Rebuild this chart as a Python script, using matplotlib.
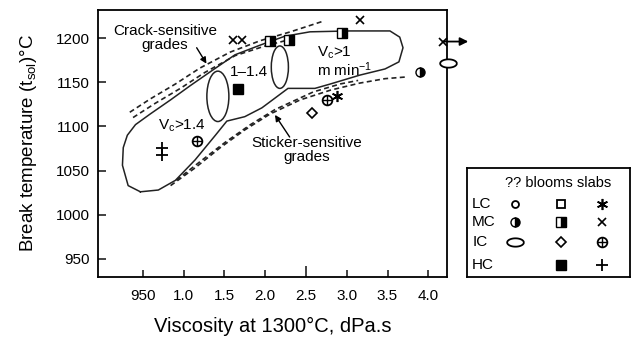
import numpy as np
import matplotlib
matplotlib.use('Agg')
import matplotlib.pyplot as plt
from matplotlib.patches import Ellipse
from matplotlib.path import Path

plt.rcParams['font.family'] = ['Liberation Sans', 'DejaVu Sans']
plt.rcParams['mathtext.fontset'] = 'custom'
plt.rcParams['mathtext.rm'] = 'Liberation Sans'
plt.rcParams['mathtext.it'] = 'Liberation Sans:italic'

# axes
x_ticks = [0.5, 1.0, 1.5, 2.0, 2.5, 3.0, 3.5, 4.0]
x_tick_labels = ['950', '1.0', '1.5', '2.0', '2.5', '3.0', '3.5', '4.0']
y_ticks = [950, 1000, 1050, 1100, 1150, 1200]

# measured points (viscosity, break temperature)
mc_half_circle_x = [3.90]
mc_half_circle_y = [1162]
mc_half_square_x = [2.06, 2.29, 2.94]
mc_half_square_y = [1197, 1198, 1206]
mc_cross_x = [1.61, 1.72, 3.16, 4.18]
mc_cross_y = [1198, 1198, 1220, 1196]
ic_ellipse_x = [4.24]
ic_ellipse_y = [1172]
ic_drop_x = [2.57]
ic_drop_y = [1115]
ic_slab_x = [1.17, 2.76]
ic_slab_y = [1084, 1130]
lc_star_x = [2.88]
lc_star_y = [1134]
hc_square_x = [1.67]
hc_square_y = [1142]
hc_plus_x = [0.73, 0.73]
hc_plus_y = [1075, 1068]

# outline of the casting-speed regions
loop_x = [0.47, 0.32, 0.25, 0.26, 0.31, 0.41, 0.59, 0.84, 1.08, 1.33, 1.63, 1.94,
          2.24, 2.55, 3.04, 3.53, 3.65, 3.69, 3.64, 3.47, 3.16, 2.80, 2.61, 2.28,
          2.12, 1.96, 1.75, 1.53, 1.39, 1.14, 0.90, 0.69]
loop_y = [1026, 1033, 1056, 1076, 1090, 1102, 1114, 1130, 1146, 1162, 1181, 1192,
          1202, 1207, 1208, 1208, 1201, 1189, 1173, 1165, 1158, 1148, 1143, 1143,
          1132, 1121, 1111, 1106, 1090, 1062, 1039, 1028]
oval_b = (1.42, 1134, 0.27, 57)   # centre x, centre y, width, height
oval_c = (2.18, 1167, 0.21, 48)

# crack-sensitive boundary (two dashed strokes)
crack1_x = [0.34, 0.59, 0.90, 1.20, 1.57, 1.94, 2.31, 2.71]
crack1_y = [1116, 1131, 1148, 1166, 1184, 1197, 1207, 1219]
crack2_x = [0.38, 0.65, 0.96, 1.26, 1.63, 2.00, 2.37]
crack2_y = [1110, 1126, 1143, 1161, 1180, 1191, 1200]

# sticker-sensitive boundary (two dashed strokes)
stick1_x = [0.84, 1.14, 1.45, 1.75, 2.06, 2.43, 2.80, 3.16, 3.47, 3.74]
stick1_y = [1033, 1053, 1076, 1096, 1114, 1130, 1141, 1149, 1154, 1156]
stick2_x = [0.91, 1.20, 1.51, 1.82, 2.12, 2.59, 2.92, 3.14]
stick2_y = [1039, 1060, 1082, 1102, 1119, 1139, 1148, 1152]

legend_rows = ['LC', 'MC', 'IC', 'HC']
legend_header = '?? blooms slabs'

t = np.linspace(0, 2 * np.pi, 60)
ellipse_marker = Path(np.column_stack([np.cos(t), 0.5 * np.sin(t)]))

styles = {
    ('LC', 0): dict(marker='o', ms=5, mfc='white', mec='black', mew=1.3),
    ('LC', 1): dict(marker='s', ms=6, mfc='white', mec='black', mew=1.3),
    ('LC', 2): dict(marker=(6, 2, 0), ms=8, mec='black', mew=1.2),
    ('MC', 0): dict(marker='o', ms=6.5, mfc='black', mfcalt='white', mec='black',
                    fillstyle='right', mew=1.0),
    ('MC', 1): dict(marker='s', ms=7.5, mfc='black', mfcalt='white', mec='black',
                    fillstyle='right', mew=1.0),
    ('MC', 2): dict(marker='x', ms=6, mec='black', mew=1.2),
    ('IC', 0): dict(marker=ellipse_marker, ms=12, mfc='white', mec='black', mew=1.3),
    ('IC', 1): dict(marker='D', ms=5, mfc='white', mec='black', mew=1.2),
    ('IC', 2): dict(marker='o', ms=7, mfc='white', mec='black', mew=1.3),
    ('HC', 1): dict(marker='s', ms=6.5, mfc='black', mec='black'),
    ('HC', 2): dict(marker='+', ms=9, mec='black', mew=1.3),
}


def mark(ax, x, y, key, **kw):
    ax.plot(x, y, ls='none', clip_on=False, **styles[key], **kw)
    if key == ('IC', 2):
        ax.plot(x, y, ls='none', marker='+', ms=7, mec='black', mew=1.0,
                clip_on=False, **kw)


fig = plt.figure(figsize=(6.35, 3.41), dpi=100)
ax = fig.add_axes([0.1543, 0.1877, 0.5497, 0.783])
ax.set_xlim(-0.05, 4.23)
ax.set_ylim(929.6, 1231.7)

line_col = '#222222'
ax.plot(loop_x + loop_x[:1], loop_y + loop_y[:1], color=line_col, lw=1.1)
for cx, cy, w, h in (oval_b, oval_c):
    ax.add_patch(Ellipse((cx, cy), w, h, fill=False, ec=line_col, lw=1.1))
for xs, ys in ((crack1_x, crack1_y), (crack2_x, crack2_y),
               (stick1_x, stick1_y), (stick2_x, stick2_y)):
    ax.plot(xs, ys, color=line_col, lw=1.2, dashes=(3, 2))

mark(ax, mc_half_circle_x, mc_half_circle_y, ('MC', 0))
mark(ax, mc_half_square_x, mc_half_square_y, ('MC', 1))
mark(ax, mc_cross_x, mc_cross_y, ('MC', 2))
mark(ax, ic_ellipse_x, ic_ellipse_y, ('IC', 0), zorder=5)
mark(ax, ic_drop_x, ic_drop_y, ('IC', 1))
mark(ax, ic_slab_x, ic_slab_y, ('IC', 2))
mark(ax, lc_star_x, lc_star_y, ('LC', 2))
mark(ax, hc_square_x, hc_square_y, ('HC', 1))
mark(ax, hc_plus_x, hc_plus_y, ('HC', 2))

# off-scale arrow on the right-hand point
ax.annotate('', xy=(4.49, mc_cross_y[-1]), xytext=(mc_cross_x[-1], mc_cross_y[-1]),
            annotation_clip=False,
            arrowprops=dict(arrowstyle='-|>', color='black', lw=1.3,
                            mutation_scale=12, shrinkA=0, shrinkB=0))

fs = 11
ax.text(0.77, 1200, 'Crack-sensitive\ngrades', ha='center', va='center',
        fontsize=fs, linespacing=1.0)
ax.annotate('', xy=(1.28, 1171), xytext=(1.16, 1189),
            arrowprops=dict(arrowstyle='-|>', color='black', lw=1.0,
                            mutation_scale=9, shrinkA=0, shrinkB=0))
ax.text(2.51, 1073, 'Sticker-sensitive\ngrades', ha='center', va='center',
        fontsize=fs, linespacing=1.0)
ax.annotate('', xy=(2.12, 1113), xytext=(2.30, 1088),
            arrowprops=dict(arrowstyle='-|>', color='black', lw=1.0,
                            mutation_scale=9, shrinkA=0, shrinkB=0))
ax.text(1.57, 1161, '1\u20131.4', ha='left', va='center', fontsize=fs)
ax.text(2.64, 1183, 'V$_\\mathrm{c}$>1', ha='left', va='center', fontsize=fs)
ax.text(2.64, 1164, 'm min$^\\mathrm{-1}$', ha='left', va='center', fontsize=fs)
ax.text(0.69, 1101, 'V$_\\mathrm{c}$>1.4', ha='left', va='center', fontsize=fs)

ax.set_xticks(x_ticks)
ax.set_xticklabels(x_tick_labels)
ax.set_yticks(y_ticks)
ax.tick_params(axis='both', direction='in', labelsize=11, width=1.2, color='#222222')
ax.tick_params(axis='x', length=5, pad=9)
ax.tick_params(axis='y', length=6, pad=6)
ax.xaxis.get_major_ticks()[4].tick1line.set_markersize(8)
for sp in ax.spines.values():
    sp.set_linewidth(1.3)
ax.set_xlabel('Viscosity at 1300\u00b0C, dPa.s', fontsize=14.5, labelpad=10)
ax.set_ylabel('Break temperature (t$_\\mathrm{sol}$)\u00b0C', fontsize=13.5, labelpad=12)

# symbol key
lg = fig.add_axes([0.736, 0.1877, 0.256, 0.3196])
lg.set_xlim(0, 1)
lg.set_ylim(0, 1)
lg.set_xticks([])
lg.set_yticks([])
for sp in lg.spines.values():
    sp.set_linewidth(1.3)
lg.text(0.557, 0.862, legend_header, ha='center', va='center', fontsize=10.5)
row_y = [0.67, 0.507, 0.324, 0.11]
col_x = [0.295, 0.574, 0.83]
for name, ry in zip(legend_rows, row_y):
    lg.text(0.03, ry, name, ha='left', va='center', fontsize=11)
    for ci, cx in enumerate(col_x):
        if (name, ci) in styles:
            mark(lg, [cx], [ry], (name, ci))

fig.savefig('out.png', dpi=100)
